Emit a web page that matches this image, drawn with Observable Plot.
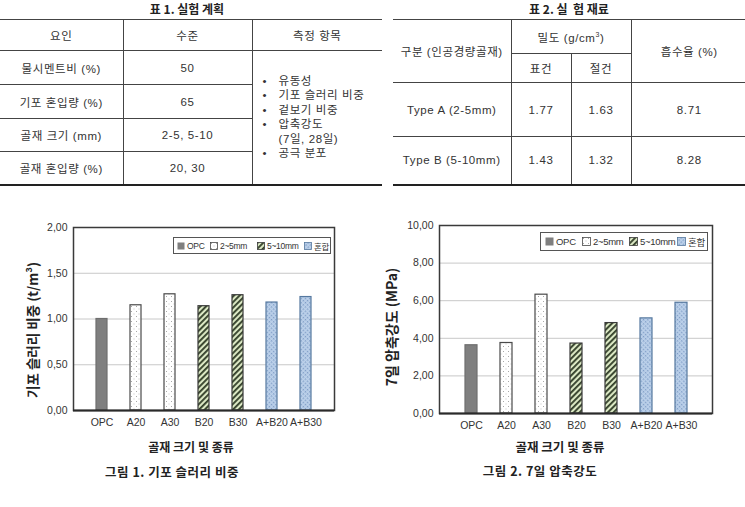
<!DOCTYPE html>
<html><head><meta charset="utf-8">
<script src="https://cdn.jsdelivr.net/npm/d3@7"></script>
<script src="https://cdn.jsdelivr.net/npm/@observablehq/plot@0.6"></script>
<style>
body{margin:0;background:#fff;}
#root{position:relative;width:745px;height:507px;overflow:hidden;font-family:"Liberation Sans","Noto Sans CJK KR",sans-serif;color:#222;}
.ttl{position:absolute;font-family:"Noto Sans CJK KR",sans-serif;font-weight:bold;font-size:12px;text-align:center;white-space:pre;line-height:1;}
table.tb{position:absolute;border-collapse:collapse;font-size:11.5px;color:#333;table-layout:fixed;letter-spacing:0.6px;}
table.tb td{text-align:center;vertical-align:middle;padding:0;border:1px solid #444;white-space:pre;}
table.tb tr:first-child td{border-top:2px solid #222;}
table.tb tr:last-child td, table.tb td.lastrow{border-bottom:2px solid #222;}
table.tb td:first-child{border-left:none;}
table.tb td.right{border-right:none;}
table.tb td.meas{text-align:left;line-height:14.5px;}
.meas div{position:relative;padding-left:26px;}
.meas div span{position:absolute;left:10px;}
.chart{position:absolute;}
.legend{position:absolute;border:1px solid #555;background:#fff;box-sizing:border-box;color:#333;font-family:"Liberation Sans","Noto Sans CJK KR",sans-serif;letter-spacing:-0.3px;}
.legend .it{position:absolute;top:0;height:100%;display:flex;align-items:center;white-space:nowrap;}
.legend svg{display:block;margin-right:2px;}
.axt{position:absolute;font-family:"Noto Sans CJK KR",sans-serif;font-weight:bold;white-space:nowrap;transform:translate(-50%,-50%);line-height:1;color:#222;}
.rot{transform:translate(-50%,-50%) rotate(-90deg);}
</style>
</head><body>
<svg width="0" height="0" style="position:absolute">
<defs>
<pattern id="pDots" width="5" height="5" patternUnits="userSpaceOnUse">
<rect width="5" height="5" fill="#fff"/>
<rect x="1" y="1" width="1" height="1" fill="#a8a8a8"/>
<rect x="3.5" y="3.5" width="1" height="1" fill="#c4c4c4"/>
</pattern>
<pattern id="pStripe" width="4" height="4" patternUnits="userSpaceOnUse" patternTransform="rotate(45)">
<rect width="4" height="4" fill="#dbe8c4"/>
<rect width="1.9" height="4" fill="#35422c"/>
</pattern>
<pattern id="pMix" width="3" height="3" patternUnits="userSpaceOnUse" patternTransform="rotate(45)">
<rect width="3" height="3" fill="#bcd1ea"/>
<rect x="0" y="0" width="1.4" height="1.4" fill="#7f9cc6"/>
</pattern>
</defs>
</svg>
<div id="root"></div>
<script>
// ---------- Table 1 data ----------
const t1Title = "표 1. 실험 계획";
const t1Header = ["요인", "수준", "측정 항목"];
const t1Factors = ["물시멘트비 (%)", "기포 혼입량 (%)", "골재 크기 (mm)", "골재 혼입량 (%)"];
const t1Levels = ["50", "65", "2-5, 5-10", "20, 30"];
const t1Measures = ["유동성", "기포 슬러리 비중", "겉보기 비중", "압축강도\n(7일, 28일)", "공극 분포"];

// ---------- Table 2 data ----------
const t2Title = "표 2. 실  험 재료";
const t2HeadType = "구분 (인공경량골재)";
const t2HeadAbs = "흡수율 (%)";
const t2SubHead = ["표건", "절건"];
const t2Types = ["Type A (2-5mm)", "Type B (5-10mm)"];
const t2Saturated = ["1.77", "1.43"];
const t2Dry = ["1.63", "1.32"];
const t2Absorption = ["8.71", "8.28"];

// ---------- Chart data ----------
const mixes = ["OPC", "A20", "A30", "B20", "B30", "A+B20", "A+B30"];
const mixGroup = ["OPC", "2~5mm", "2~5mm", "5~10mm", "5~10mm", "혼합", "혼합"];
const slurryDensity = [1.00, 1.15, 1.27, 1.14, 1.26, 1.18, 1.24];
const strength7d = [3.63, 3.75, 6.32, 3.72, 4.81, 5.06, 5.89];
const legendGroups = ["OPC", "2~5mm", "5~10mm", "혼합"];
const yTicks1 = [0, 0.5, 1, 1.5, 2];
const yTicks2 = [0, 2, 4, 6, 8, 10];
const chart1YLabel = "기포 슬러리 비중 (t/m³)";
const chart2YLabel = "7일 압축강도 (MPa)";
const xLabel = "골재 크기 및 종류";
const caption1 = "그림 1. 기포 슬러리 비중";
const caption2 = "그림 2. 7일 압축강도";

// ---------- styles ----------
const groupFill = {"OPC": "#7f7f7f", "2~5mm": "url(#pDots)", "5~10mm": "url(#pStripe)", "혼합": "url(#pMix)"};
const groupStroke = {"OPC": "#6e6e6e", "2~5mm": "#4a4a4a", "5~10mm": "#3a3a3a", "혼합": "#55789f"};

const root = document.getElementById("root");
function el(tag, cls, parent, text) {
  const e = document.createElement(tag);
  if (cls) e.className = cls;
  if (text != null) e.textContent = text;
  (parent || root).appendChild(e);
  return e;
}

// ---------- Table 1 ----------
{
  const t = el("div", "ttl"); t.textContent = t1Title;
  Object.assign(t.style, {left: "0px", width: "374px", top: "3px"});
  const tb = el("table", "tb");
  Object.assign(tb.style, {left: "0px", top: "19px", width: "382px"});
  const cg = el("colgroup", null, tb);
  [123, 129, 130].forEach(w => { const c = el("col", null, cg); c.style.width = w + "px"; });
  const heights = [31, 34, 34, 33, 33];
  const hr = el("tr", null, tb); hr.style.height = heights[0] + "px";
  t1Header.forEach((h, i) => { el("td", i === 2 ? "right" : null, hr, h); });
  t1Factors.forEach((f, i) => {
    const tr = el("tr", null, tb); tr.style.height = heights[i + 1] + "px";
    el("td", null, tr, f);
    el("td", null, tr, t1Levels[i]);
    if (i === 0) {
      const td = el("td", "right meas lastrow", tr);
      td.rowSpan = t1Factors.length;
      t1Measures.forEach(m => {
        const d = el("div", null, td);
        el("span", null, d, "•");
        d.appendChild(document.createTextNode(m));
      });
    }
  });
}

// ---------- Table 2 ----------
{
  const t = el("div", "ttl"); t.textContent = t2Title;
  Object.assign(t.style, {left: "393px", width: "352px", top: "3px"});
  const tb = el("table", "tb");
  Object.assign(tb.style, {left: "393px", top: "19px", width: "354px"});
  const cg = el("colgroup", null, tb);
  [118, 60, 60, 116].forEach(w => { const c = el("col", null, cg); c.style.width = w + "px"; });
  const r1 = el("tr", null, tb); r1.style.height = "34px";
  const a = el("td", null, r1, t2HeadType); a.rowSpan = 2;
  const b = el("td", null, r1); b.colSpan = 2; b.innerHTML = "밀도 (g/cm<sup style='font-size:7px'>3</sup>)";
  const c = el("td", "right", r1, t2HeadAbs); c.rowSpan = 2;
  const r2 = el("tr", null, tb); r2.style.height = "29px";
  t2SubHead.forEach(s => el("td", null, r2, s));
  const rh = [54, 48];
  t2Types.forEach((ty, i) => {
    const tr = el("tr", null, tb); tr.style.height = rh[i] + "px";
    el("td", null, tr, ty);
    el("td", null, tr, t2Saturated[i]);
    el("td", null, tr, t2Dry[i]);
    el("td", "right", tr, t2Absorption[i]);
  });
}

// ---------- Charts ----------
const comma = d => d3.format(".2f")(d).replace(".", ",");
function barChart(values, yDomain, ticks, o) {
  const data = mixes.map((m, i) => ({mix: m, group: mixGroup[i], value: values[i]}));
  return Plot.plot({
    width: o.width, height: o.height,
    marginLeft: o.ml, marginRight: o.mr, marginTop: o.mt, marginBottom: o.mb,
    style: {fontFamily: "'Liberation Sans', Arial, sans-serif", fontSize: "10.5px", color: "#333", background: "transparent", overflow: "visible"},
    x: {domain: mixes, padding: 0.67, label: null},
    y: {domain: yDomain, label: null},
    color: {type: "identity"},
    marks: [
      Plot.gridY(ticks, {stroke: "#c8c8c8", strokeOpacity: 1, strokeWidth: 1}),
      Plot.axisX({tickSize: 0, tickPadding: 8, label: null}),
      Plot.axisY(ticks, {tickSize: 0, tickPadding: 6, tickFormat: comma, label: null}),
      Plot.barY(data, {x: "mix", y: "value", fill: d => groupFill[d.group], stroke: d => groupStroke[d.group], strokeWidth: 1.2}),
      Plot.frame({stroke: "#3a3a3a", strokeWidth: 1.5}),
      Plot.ruleY([yDomain[0]], {stroke: "#2a2a2a", strokeWidth: 2})
    ]
  });
}

function legendBox(o) {
  const lg = el("div", "legend");
  Object.assign(lg.style, {left: o.left + "px", top: o.top + "px", width: o.width + "px", height: o.height + "px", fontSize: o.fs + "px"});
  legendGroups.forEach((g, i) => {
    const it = el("div", "it", lg);
    it.style.left = (o.xs[i] - o.left - 1) + "px";
    const s = o.sw;
    const svg = d3.create("svg").attr("width", s + 1).attr("height", s + 1);
    svg.append("rect").attr("x", 0.5).attr("y", 0.5).attr("width", s).attr("height", s)
      .attr("fill", groupFill[g]).attr("stroke", g === "OPC" ? "none" : groupStroke[g]).attr("stroke-width", 0.8);
    it.appendChild(svg.node());
    el("span", null, it, g);
  });
}

// chart 1
{
  const svg = barChart(slurryDensity, [0, 2], yTicks1, {width: 372, height: 260, ml: 73, mr: 38, mt: 27, mb: 50});
  svg.classList.add("chart");
  Object.assign(svg.style, {left: "0px", top: "200px"});
  root.appendChild(svg);
  legendBox({left: 173, top: 237, width: 158, height: 17, fs: 8.5, sw: 7, xs: [177, 210, 257, 304]});
  const y = el("div", "axt rot", root, chart1YLabel); Object.assign(y.style, {left: "33px", top: "330px", fontSize: "13.5px"});
  const x = el("div", "axt", root, xLabel); Object.assign(x.style, {left: "191px", top: "447px", fontSize: "12px"});
  const c = el("div", "axt", root, caption1); Object.assign(c.style, {left: "172px", top: "472px", fontSize: "12.5px", letterSpacing: "0.5px"});
}
// chart 2
{
  const svg = barChart(strength7d, [0, 10], yTicks2, {width: 373, height: 263, ml: 67, mr: 33, mt: 25, mb: 50});
  svg.classList.add("chart");
  Object.assign(svg.style, {left: "372px", top: "200px"});
  root.appendChild(svg);
  legendBox({left: 540, top: 232, width: 168, height: 19, fs: 9.5, sw: 8, xs: [545, 582, 629, 677]});
  const y = el("div", "axt rot", root, chart2YLabel); Object.assign(y.style, {left: "391px", top: "327px", fontSize: "14px"});
  const x = el("div", "axt", root, xLabel); Object.assign(x.style, {left: "560px", top: "447px", fontSize: "12.5px"});
  const c = el("div", "axt", root, caption2); Object.assign(c.style, {left: "540px", top: "471px", fontSize: "12.5px", letterSpacing: "0.5px"});
}
</script>
</body></html>
